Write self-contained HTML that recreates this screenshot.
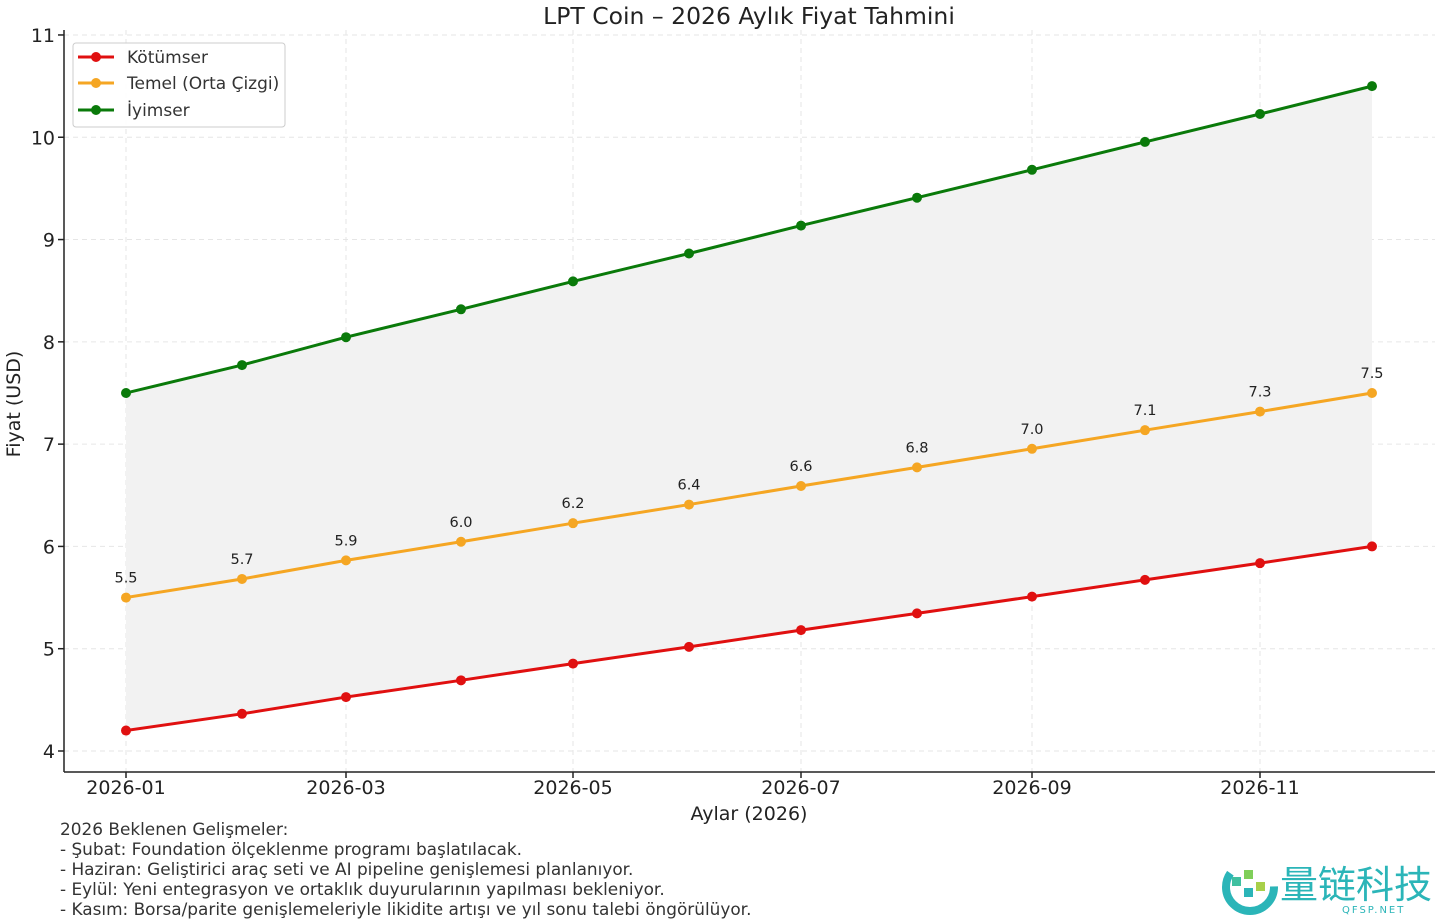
<!DOCTYPE html>
<html><head><meta charset="utf-8"><style>
body{margin:0;background:#fff;}
svg{display:block;font-family:"DejaVu Sans","Liberation Sans",sans-serif;}
</style></head><body>
<svg width="1439" height="920" viewBox="0 0 1439 920" xmlns="http://www.w3.org/2000/svg">
<text x="749" y="24" font-size="23.5" text-anchor="middle" fill="#222">LPT Coin – 2026 Aylık Fiyat Tahmini</text>
<g id="grid" stroke="#e6e6e6" stroke-dasharray="5,4" stroke-width="1"></g>
<polygon id="fill" fill="#f2f2f2"></polygon>
<g id="series"></g>
<line x1="64" y1="30" x2="64" y2="772" stroke="#222" stroke-width="1.5"/>
<line x1="64" y1="772" x2="1435" y2="772" stroke="#222" stroke-width="1.5"/>
<g id="ticks" font-size="19" fill="#222"></g>
<text x="749" y="820" font-size="19" text-anchor="middle" fill="#222">Aylar (2026)</text>
<text transform="translate(20,404) rotate(-90)" font-size="19" text-anchor="middle" fill="#222">Fiyat (USD)</text>
<g font-size="16.9" fill="#333">
<text x="60" y="835">2026 Beklenen Gelişmeler:</text>
<text x="60" y="855">- Şubat: Foundation ölçeklenme programı başlatılacak.</text>
<text x="60" y="875">- Haziran: Geliştirici araç seti ve AI pipeline genişlemesi planlanıyor.</text>
<text x="60" y="895">- Eylül: Yeni entegrasyon ve ortaklık duyurularının yapılması bekleniyor.</text>
<text x="60" y="915">- Kasım: Borsa/parite genişlemeleriyle likidite artışı ve yıl sonu talebi öngörülüyor.</text>
</g>
<rect x="73" y="43" width="212" height="84" rx="3" fill="#fff" fill-opacity="0.9" stroke="#ccc"/>
<g font-size="17" fill="#333">
<line x1="78" y1="57" x2="114" y2="57" stroke="#e01010" stroke-width="3"/><circle cx="96" cy="57" r="5" fill="#e01010"/>
<text x="127" y="63">Kötümser</text>
<line x1="78" y1="83" x2="114" y2="83" stroke="#f5a623" stroke-width="3"/><circle cx="96" cy="83" r="5" fill="#f5a623"/>
<text x="127" y="89">Temel (Orta Çizgi)</text>
<line x1="78" y1="110" x2="114" y2="110" stroke="#0a7a0a" stroke-width="3"/><circle cx="96" cy="110" r="5" fill="#0a7a0a"/>
<text x="127" y="116">İyimser</text>
</g>
<g transform="translate(1220,860)">
<circle cx="30" cy="27" r="24" fill="none" stroke="#2bb5b8" stroke-width="8" stroke-dasharray="90 60"/>
<rect x="12" y="17" width="9" height="9" fill="#3fc0a0"/><rect x="24" y="10" width="9" height="9" fill="#7fcf5a"/><rect x="24" y="28" width="9" height="9" fill="#2bb5b8"/><rect x="36" y="22" width="9" height="9" fill="#a8d04a"/>
<text x="60" y="38" font-family="'Noto Sans CJK SC',sans-serif" font-size="38" fill="#2bb5b8">量链科技</text>
<text x="122" y="53" font-size="10" fill="#2bb5b8" letter-spacing="2">QFSP.NET</text>
</g>
<script>
const xs=[126,242,346,461,573,689,801,917,1032,1145,1260,1372];
const Y=v=>751-(v-4)*102.29;
const ns='http://www.w3.org/2000/svg';
function el(t,a,p){const e=document.createElementNS(ns,t);for(const k in a)e.setAttribute(k,a[k]);p.appendChild(e);return e;}
const grid=document.getElementById('grid'),ticks=document.getElementById('ticks'),ser=document.getElementById('series');
for(let v=4;v<=11;v++){el('line',{x1:64,x2:1435,y1:Y(v),y2:Y(v)},grid);el('line',{x1:58,x2:64,y1:Y(v),y2:Y(v),stroke:'#222','stroke-width':1.5},ticks);const t=el('text',{x:55,y:Y(v)+7,'text-anchor':'end'},ticks);t.textContent=v;}
const lab=['2026-01','2026-03','2026-05','2026-07','2026-09','2026-11'];
[0,2,4,6,8,10].forEach((i,j)=>{const x=xs[i];el('line',{x1:x,x2:x,y1:30,y2:772},grid);el('line',{x1:x,x2:x,y1:772,y2:778,stroke:'#222','stroke-width':1.5},ticks);const t=el('text',{x:x,y:794,'text-anchor':'middle'},ticks);t.textContent=lab[j];});
const lo=xs.map((x,i)=>4.2+1.8*i/11),ba=xs.map((x,i)=>5.5+2*i/11),hi=xs.map((x,i)=>7.5+3*i/11);
document.getElementById('fill').setAttribute('points',xs.map((x,i)=>x+','+Y(hi[i])).concat(xs.map((x,i)=>x+','+Y(lo[i])).reverse()).join(' '));
[[lo,'#e01010'],[ba,'#f5a623'],[hi,'#0a7a0a']].forEach(([d,c])=>{el('polyline',{points:xs.map((x,i)=>x+','+Y(d[i])).join(' '),fill:'none',stroke:c,'stroke-width':3},ser);xs.forEach((x,i)=>el('circle',{cx:x,cy:Y(d[i]),r:5,fill:c},ser));});
xs.forEach((x,i)=>{const t=el('text',{x:x,y:Y(ba[i])-15,'text-anchor':'middle','font-size':14.5,fill:'#222'},ser);t.textContent=ba[i].toFixed(1);});
</script>
</svg>
</body></html>
